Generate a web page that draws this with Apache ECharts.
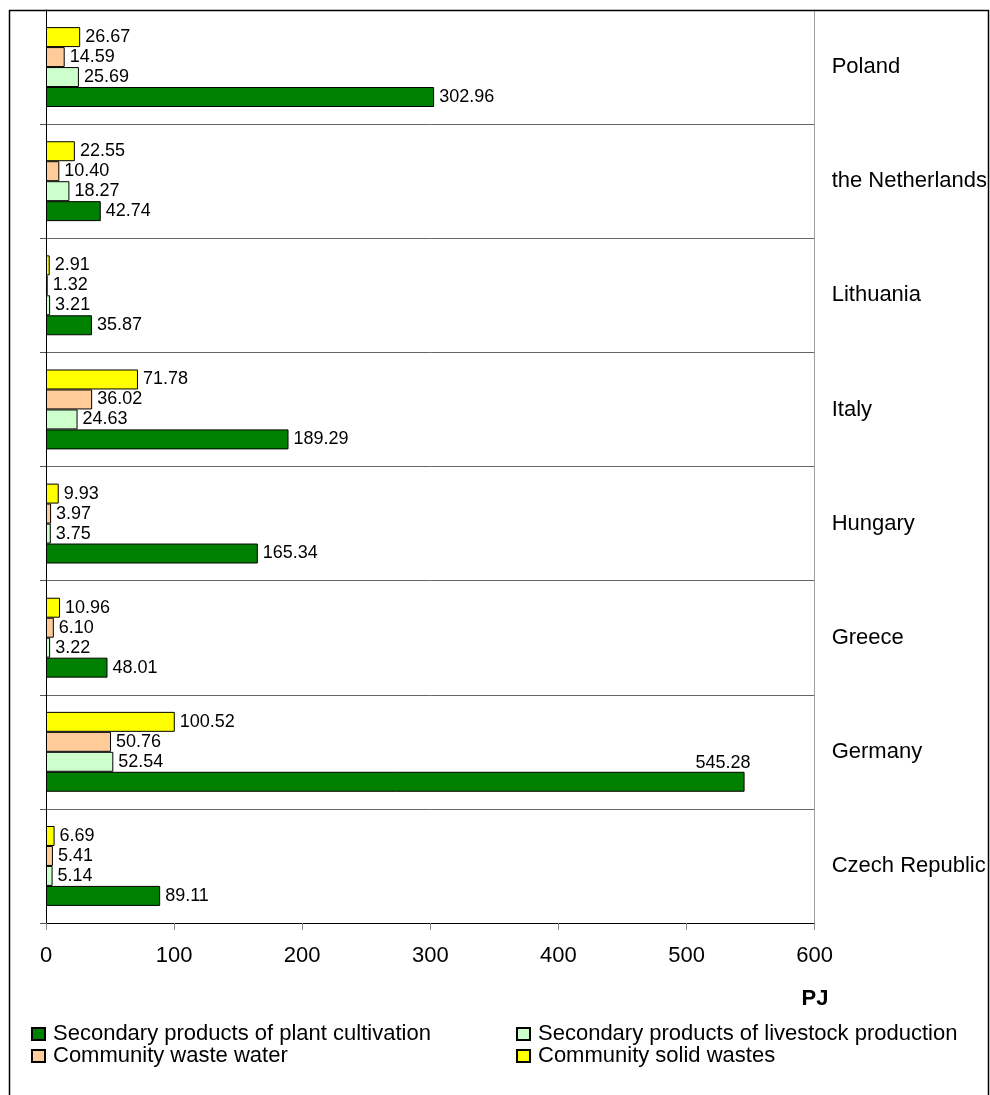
<!DOCTYPE html>
<html>
<head>
<meta charset="utf-8">
<script src="https://cdn.jsdelivr.net/npm/echarts@6/dist/echarts.min.js"></script>
<style>
html,body{margin:0;padding:0;background:#fff;}
#chart{width:990px;height:1095px;}
</style>
</head>
<body>
<div id="chart"></div>
<script>
// Categories (bottom to top as drawn)
const countries = ['Czech Republic', 'Germany', 'Greece', 'Hungary', 'Italy', 'Lithuania', 'the Netherlands', 'Poland'];
const seriesNames = ['Secondary products of plant cultivation', 'Secondary products of livestock production', 'Community waste water', 'Community solid wastes'];
const plantCultivation = [89.11, 545.28, 48.01, 165.34, 189.29, 35.87, 42.74, 302.96];
const livestockProduction = [5.14, 52.54, 3.22, 3.75, 24.63, 3.21, 18.27, 25.69];
const wasteWater = [5.41, 50.76, 6.10, 3.97, 36.02, 1.32, 10.40, 14.59];
const solidWastes = [6.69, 100.52, 10.96, 9.93, 71.78, 2.91, 22.55, 26.67];
const xTicks = [0, 100, 200, 300, 400, 500, 600];

const FONT = 'Liberation Sans, Arial, sans-serif';
const colors = ['#008000', '#CCFFCC', '#FFCC99', '#FFFF00'];
const allData = [plantCultivation, livestockProduction, wasteWater, solidWastes];

const chart = echarts.init(document.getElementById('chart'), null, {renderer: 'canvas'});

function mkSeries(i) {
  const d = allData[i].map((v, k) => {
    if (i === 0 && v === Math.max(...plantCultivation)) {
      return {
        value: v,
        label: {
          position: ['100%', 0],
          align: 'right',
          verticalAlign: 'bottom',
          offset: [6, 0]
        }
      };
    }
    return v;
  });
  return {
    name: seriesNames[i],
    type: 'bar',
    data: d,
    barGap: '0%',
    barCategoryGap: '30%',
    itemStyle: {color: colors[i], borderColor: '#000', borderWidth: 1},
    label: {
      show: true,
      position: 'right',
      distance: 5,
      fontFamily: FONT,
      fontSize: 18,
      color: '#000',
      formatter: p => Number(p.value).toFixed(2)
    },
    emphasis: {disabled: true},
    animation: false
  };
}

const legendPos = [
  {left: 31, top: 1023},
  {left: 516, top: 1023},
  {left: 31, top: 1045},
  {left: 516, top: 1045}
];

const option = {
  animation: false,
  backgroundColor: '#fff',
  grid: {left: 46, right: 175, top: 10, height: 913, containLabel: false},
  xAxis: {
    type: 'value',
    min: 0,
    max: 600,
    interval: 100,
    axisLine: {show: true, lineStyle: {color: '#000', width: 1}},
    axisTick: {show: true, inside: false, length: 7, lineStyle: {color: '#888'}},
    axisLabel: {fontFamily: FONT, fontSize: 22, color: '#000', margin: 22,
      formatter: v => xTicks.includes(v) ? String(v) : ''},
    splitLine: {show: false}
  },
  yAxis: [
    {
      type: 'category',
      data: countries,
      position: 'left',
      axisLine: {show: true, lineStyle: {color: '#000', width: 1}},
      axisTick: {show: true, inside: false, length: 6, lineStyle: {color: '#555'}},
      axisLabel: {show: false},
      splitLine: {show: true, lineStyle: {color: '#666', width: 1}}
    },
    {
      type: 'category',
      data: countries,
      position: 'right',
      axisLine: {show: true, lineStyle: {color: '#a0a0a0', width: 1}},
      axisTick: {show: false},
      axisLabel: {show: true, fontFamily: FONT, fontSize: 22, color: '#000', margin: 17, align: 'left'},
      splitLine: {show: false}
    }
  ],
  title: {
    text: 'PJ',
    left: 815,
    top: 988,
    textAlign: 'center',
    padding: 0,
    textStyle: {fontFamily: FONT, fontSize: 22, fontWeight: 'bold', color: '#000'}
  },
  legend: seriesNames.map((n, i) => ({
    data: [n],
    left: legendPos[i].left,
    top: legendPos[i].top,
    orient: 'horizontal',
    padding: 0,
    itemWidth: 13,
    itemHeight: 12,
    icon: 'rect',
    selectedMode: false,
    textStyle: {fontFamily: FONT, fontSize: 22, color: '#000', padding: [0, 0, 0, 3]}
  })),
  graphic: [
    {
      type: 'rect',
      silent: true,
      z: 100,
      shape: {x: 9.5, y: 10.5, width: 979, height: 1100},
      style: {fill: 'none', stroke: '#000', lineWidth: 1.5}
    }
  ],
  // series listed top-to-bottom within each group: solid, water, livestock, plant
  series: [3, 2, 1, 0].map(mkSeries)
};

chart.setOption(option);
</script>
</body>
</html>
